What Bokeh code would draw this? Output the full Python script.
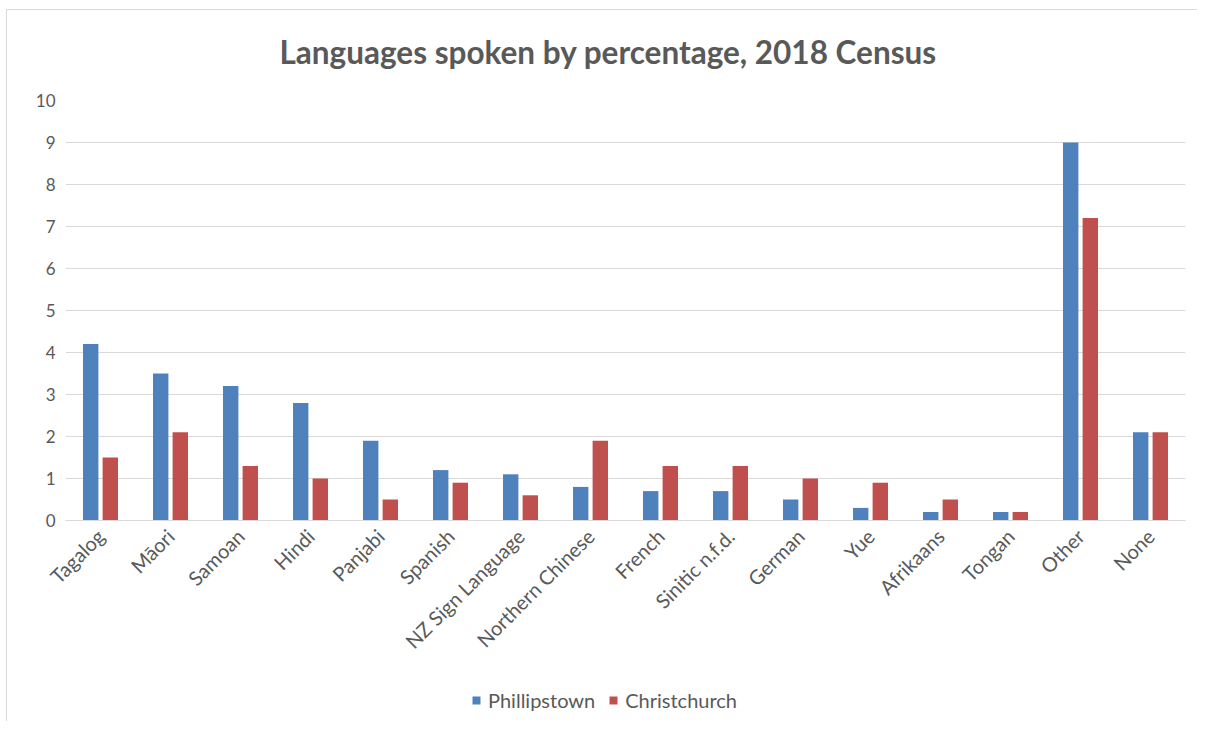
import math
from bokeh.plotting import figure
from bokeh.layouts import column
from bokeh.models import ColumnDataSource, FactorRange, FixedTicker, Legend, LegendItem
from bokeh.transform import dodge
from bokeh.embed import file_html
from bokeh.resources import INLINE

languages = ["Tagalog", "Māori", "Samoan", "Hindi", "Panjabi", "Spanish", "NZ Sign Language",
             "Northern Chinese", "French", "Sinitic n.f.d.", "German", "Yue", "Afrikaans",
             "Tongan", "Other", "None"]
phillipstown = [4.2, 3.5, 3.2, 2.8, 1.9, 1.2, 1.1, 0.8, 0.7, 0.7, 0.5, 0.3, 0.2, 0.2, 9.0, 2.1]
christchurch = [1.5, 2.1, 1.3, 1.0, 0.5, 0.9, 0.6, 1.9, 1.3, 1.3, 1.0, 0.9, 0.5, 0.2, 7.2, 2.1]
y_ticks = [0, 1, 2, 3, 4, 5, 6, 7, 8, 9, 10]
series_names = ["Phillipstown", "Christchurch"]
title_text = "Languages spoken by percentage, 2018 Census"

BLUE = "#4F81BD"
RED = "#C0504D"
TEXT = "#595959"
GRID = "#D9D9D9"
FONT = "Lato"

src = ColumnDataSource(dict(lang=languages, p=phillipstown, c=christchurch))

W, H1, H2 = 1197, 680, 41
p = figure(x_range=FactorRange(*languages), y_range=(0, 10), width=W, height=H1,
           output_backend="svg", toolbar_location=None,
           min_border_left=65, min_border_right=W - 1185, min_border_top=100,
           min_border_bottom=H1 - 520)
p.outline_line_color = None
p.border_fill_alpha = 0
p.styles = {
    "background-image": "linear-gradient(#D9D9D9,#D9D9D9), linear-gradient(#D9D9D9,#D9D9D9)",
    "background-size": "1px 100%, 100% 1px",
    "background-position": "6px 9px, 6px 9px",
    "background-repeat": "no-repeat",
}

p.vbar(x=dodge("lang", -0.14, range=p.x_range), top="p", width=0.22, source=src,
       fill_color=BLUE, line_color=None)
p.vbar(x=dodge("lang", 0.14, range=p.x_range), top="c", width=0.22, source=src,
       fill_color=RED, line_color=None)

p.x_range.range_padding = 0

p.title.text = title_text
p.title.align = "left"
p.title.offset = 214
p.title.text_font = FONT
p.title.text_font_style = "bold"
p.title.text_font_size = "31.5px"
p.title.text_color = TEXT
p.title.standoff = 60

p.yaxis.ticker = FixedTicker(ticks=y_ticks)
p.yaxis.axis_line_color = None
p.yaxis.major_tick_line_color = None
p.yaxis.minor_tick_line_color = None
p.yaxis.major_tick_out = 0
p.yaxis.major_label_standoff = 10
p.yaxis.major_label_text_font = FONT
p.yaxis.major_label_text_font_size = "17px"
p.yaxis.major_label_text_color = TEXT

p.xaxis.axis_line_color = GRID
p.xaxis.major_tick_line_color = None
p.xaxis.minor_tick_line_color = None
p.xaxis.major_tick_out = 0
p.xaxis.major_label_standoff = 12
p.xaxis.major_label_orientation = math.pi / 4
p.xaxis.major_label_text_font = FONT
p.xaxis.major_label_text_font_size = "20px"
p.xaxis.major_label_text_color = TEXT

p.xgrid.grid_line_color = None
p.ygrid.grid_line_color = GRID
p.ygrid.grid_line_width = 1

# legend strip
pl = figure(width=W, height=H2, x_range=(0, 1), y_range=(0, 1), output_backend="svg",
            toolbar_location=None, min_border=0, x_axis_location=None, y_axis_location=None)
pl.grid.visible = False
pl.outline_line_color = None
pl.border_fill_alpha = 0
pl.background_fill_alpha = 0
pl.styles = {
    "background-image": "linear-gradient(#D9D9D9,#D9D9D9)",
    "background-size": "1px 100%",
    "background-position": "6px 0px",
    "background-repeat": "no-repeat",
}
lr1 = pl.vbar(x=[-5], top=[-5], width=0.1, fill_color=BLUE, line_color=None)
lr2 = pl.vbar(x=[-5], top=[-5], width=0.1, fill_color=RED, line_color=None)

legend = Legend(items=[LegendItem(label=series_names[0], renderers=[lr1]),
                       LegendItem(label=series_names[1], renderers=[lr2])],
                orientation="horizontal", location=(406, 9))
legend.label_text_font = FONT
legend.label_text_font_size = "20px"
legend.label_text_color = TEXT
legend.glyph_width = 10
legend.glyph_height = 10
legend.label_height = 10
legend.label_standoff = 7
legend.spacing = 13
legend.padding = 0
legend.margin = 0
legend.border_line_color = None
legend.background_fill_alpha = 0
pl.add_layout(legend)

layout = column(p, pl, spacing=0)
open("out.html", "w").write(file_html(layout, INLINE))
